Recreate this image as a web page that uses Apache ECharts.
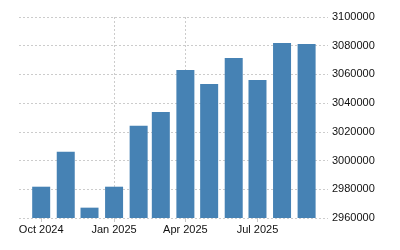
<!DOCTYPE html>
<html>
<head>
<meta charset="utf-8">
<script src="https://cdn.jsdelivr.net/npm/echarts@6/dist/echarts.min.js"></script>
<style>html,body{margin:0;padding:0;background:#fff}#c{width:400px;height:250px}</style>
</head>
<body>
<div id="c"></div>
<script>
const months = ['2024-10','2024-11','2024-12','2025-01','2025-02','2025-03','2025-04','2025-05','2025-06','2025-07','2025-08','2025-09'];
const values = [2981800, 3006100, 2967200, 2981800, 3024200, 3033900, 3063100, 3053400, 3071500, 3056200, 3081900, 3081200];
const xTickMonths = ['2024-10','2025-01','2025-04','2025-07'];
const xTickLabels = ['Oct 2024','Jan 2025','Apr 2025','Jul 2025'];
const yTicks = [2960000, 2980000, 3000000, 3020000, 3040000, 3060000, 3080000, 3100000];

function ts(s){ const p = s.split('-'); return Date.UTC(+p[0], +p[1]-1, 1); }
const data = months.map((m,i)=>[ts(m), values[i]]);
const xTickValues = xTickMonths.map(ts);

const chart = echarts.init(document.getElementById('c'));
chart.setOption({
  animation: false,
  grid: {left: 19, right: 72, top: 17, bottom: 32},
  xAxis: {
    type: 'value',
    min: Date.UTC(2024, 8, 3),
    max: Date.UTC(2025, 8, 28),
    axisLine: {show: false},
    axisTick: {show: true, length: 4, customValues: xTickValues, lineStyle: {color: '#c8c8c8'}},
    splitLine: {show: true, showMinLine: false, showMaxLine: false, lineStyle: {color: '#cccccc', type: [2, 2], width: 1}},
    axisLabel: {
      customValues: xTickValues,
      color: '#111', fontFamily: 'Liberation Sans, Arial, sans-serif', fontSize: 11, margin: 6,
      formatter: function(v){ const i = xTickValues.indexOf(v); return i >= 0 ? xTickLabels[i] : ''; }
    }
  },
  yAxis: {
    type: 'value',
    position: 'right',
    min: yTicks[0], max: yTicks[yTicks.length-1], interval: 20000,
    axisLine: {show: false},
    axisTick: {show: false},
    splitLine: {show: true, lineStyle: {color: '#cccccc', type: [2, 2], width: 1}},
    axisLabel: {color: '#111', fontFamily: 'Liberation Sans, Arial, sans-serif', fontSize: 11, margin: 4,
      formatter: function(v){ return String(v); }}
  },
  series: [{
    type: 'bar',
    data: data,
    barWidth: 18,
    itemStyle: {color: '#4682B4'}
  }]
});
</script>
</body>
</html>
